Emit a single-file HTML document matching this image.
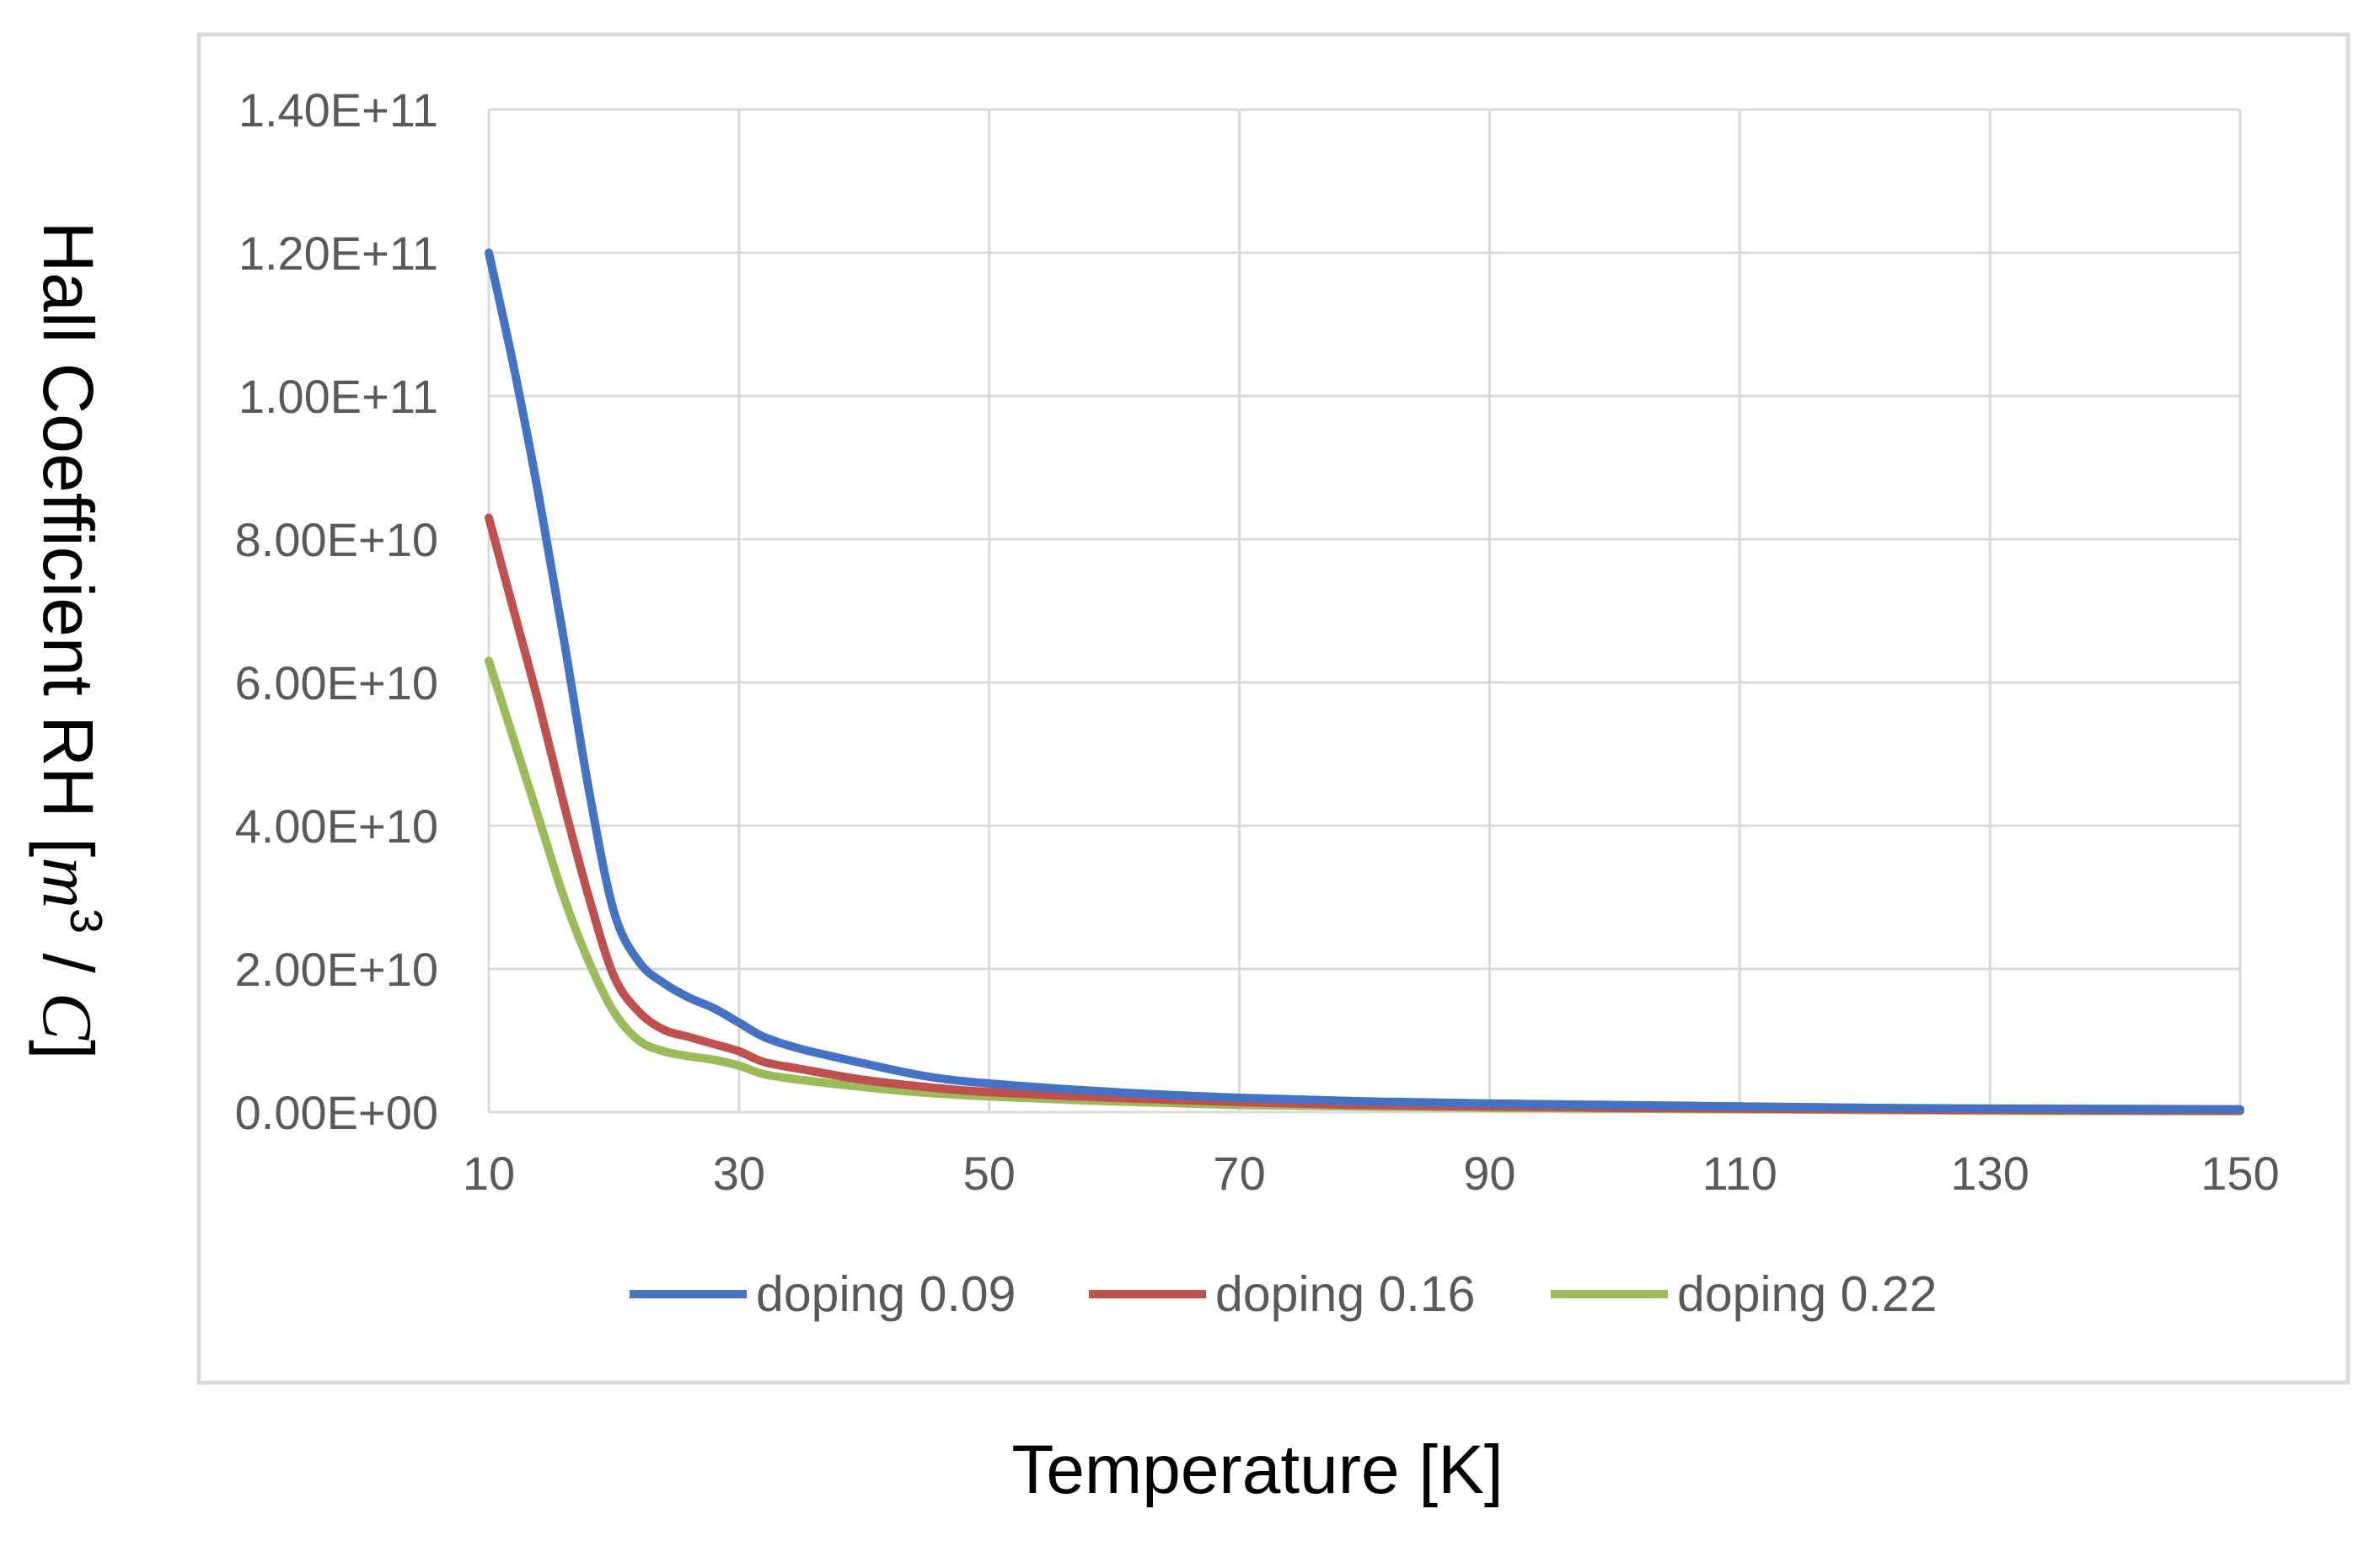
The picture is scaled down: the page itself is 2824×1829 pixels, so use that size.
<!DOCTYPE html>
<html><head><meta charset="utf-8"><style>
html,body{margin:0;padding:0;background:#fff;}
svg{display:block;}
</style></head><body>
<svg id="chart" width="2824" height="1829" xmlns="http://www.w3.org/2000/svg">
<rect x="236" y="41" width="2550" height="1600" fill="#fff" stroke="#d9d9d9" stroke-width="5"/>
<g id="grid"></g>
<g id="yticks"></g>
<g id="xticks"></g>
<g id="series"></g>
<g id="legend"></g>
<text x="1492" y="1772" text-anchor="middle" font-family="Liberation Sans, sans-serif" font-size="82" fill="#000">Temperature [K]</text>
<text transform="translate(52,760) rotate(90)" text-anchor="middle" font-family="Liberation Sans, sans-serif" font-size="84" fill="#000">Hall Coefficient RH [<tspan font-family="Liberation Serif, serif" font-style="italic">m</tspan><tspan font-size="54" dy="-32">3</tspan><tspan dy="32"> / </tspan><tspan font-family="Liberation Serif, serif" font-style="italic">C</tspan>]</text>
</svg>
<script>
const xTicks = [10,30,50,70,90,110,130,150];
const yTicks = [0,2e10,4e10,6e10,8e10,1e11,1.2e11,1.4e11];
const yTickLabels = ["0.00E+00","2.00E+10","4.00E+10","6.00E+10","8.00E+10","1.00E+11","1.20E+11","1.40E+11"];
const temps = [10,12,14,16,18,20,22,24,26,28,30,32,35,40,45,50,60,70,80,90,100,110,120,130,150];
const seriesNames = ["doping 0.09","doping 0.16","doping 0.22"];
const seriesColors = ["#4472c4","#c0504d","#9bbb59"];
const dop009 = [1.2e11,1.04e11,8.6e10,6.6e10,4.5e10,2.8e10,2.1e10,1.8e10,1.6e10,1.45e10,1.25e10,1.05e10,8.8e9,6.8e9,5.0e9,4.0e9,2.8e9,2.0e9,1.5e9,1.2e9,1.0e9,0.8e9,0.6e9,0.5e9,0.4e9];
const dop016 = [8.3e10,7.0e10,5.7e10,4.3e10,3.0e10,1.9e10,1.4e10,1.15e10,1.05e10,9.5e9,8.5e9,7e9,6e9,4.5e9,3.5e9,2.8e9,2.0e9,1.4e9,1.0e9,0.8e9,0.6e9,0.5e9,0.4e9,0.3e9,0.2e9];
const dop022 = [6.3e10,5.2e10,4.1e10,3.0e10,2.1e10,1.4e10,1.0e10,8.5e9,7.8e9,7.3e9,6.5e9,5.3e9,4.5e9,3.5e9,2.7e9,2.2e9,1.5e9,1.0e9,0.8e9,0.6e9,0.5e9,0.4e9,0.3e9,0.2e9,0.15e9];
const seriesData = [dop009,dop016,dop022];

const NS="http://www.w3.org/2000/svg";
const X0=580,X1=2658,Y0=1320,Y1=130;
const xs=v=>X0+(v-10)/(150-10)*(X1-X0);
const ys=v=>Y0-(v/1.4e11)*(Y0-Y1);
function mk(tag,attrs,parent){const e=document.createElementNS(NS,tag);for(const k in attrs)e.setAttribute(k,attrs[k]);parent.appendChild(e);return e;}
const grid=document.getElementById('grid');
yTicks.forEach((t,i)=>{
  const l=mk('line',{x1:X0,x2:X1,y1:ys(t),y2:ys(t),stroke:'#d9d9d9','stroke-width':3},grid);
  
  
  const tx=mk('text',{x:520,y:ys(t)+20,'text-anchor':'end','font-family':'Liberation Sans, sans-serif','font-size':56,fill:'#595959'},document.getElementById('yticks'));
  tx.textContent=yTickLabels[i];
  
  
});
xTicks.forEach(t=>{
  const l=mk('line',{x1:xs(t),x2:xs(t),y1:Y1,y2:Y0,stroke:'#d9d9d9','stroke-width':3},grid);
  
  
  const tx=mk('text',{x:xs(t),y:1412,'text-anchor':'middle','font-family':'Liberation Sans, sans-serif','font-size':56,fill:'#595959'},document.getElementById('xticks'));
  tx.textContent=t;
  
  
});
function smooth(pts){let d=`M${pts[0][0]},${pts[0][1]}`;for(let i=0;i<pts.length-1;i++){const p0=pts[i-1]||pts[i],p1=pts[i],p2=pts[i+1],p3=pts[i+2]||p2;const c1=[p1[0]+(p2[0]-p0[0])/6,p1[1]+(p2[1]-p0[1])/6],c2=[p2[0]-(p3[0]-p1[0])/6,p2[1]-(p3[1]-p1[1])/6];d+=` C${c1[0]},${c1[1]} ${c2[0]},${c2[1]} ${p2[0]},${p2[1]}`;}return d;}
const sg=document.getElementById('series');
[2,1,0].forEach(si=>{
  const pts=temps.map((t,i)=>[xs(t),ys(seriesData[si][i])]);
  const p=mk('path',{d:smooth(pts),fill:'none',stroke:seriesColors[si],'stroke-width':10,'stroke-linejoin':'round','stroke-linecap':'round'},sg);
  
  
});
const lg=document.getElementById('legend');
const legX=[747,1292,1840];
seriesNames.forEach((n,i)=>{
  const l=mk('line',{x1:legX[i],x2:legX[i]+139,y1:1536,y2:1536,stroke:seriesColors[i],'stroke-width':10},lg);
  
  
  const tx=mk('text',{x:legX[i]+150,y:1556,'font-family':'Liberation Sans, sans-serif','font-size':59,fill:'#595959'},lg);
  tx.textContent=n;
  
  
});
</script>
</body></html>
